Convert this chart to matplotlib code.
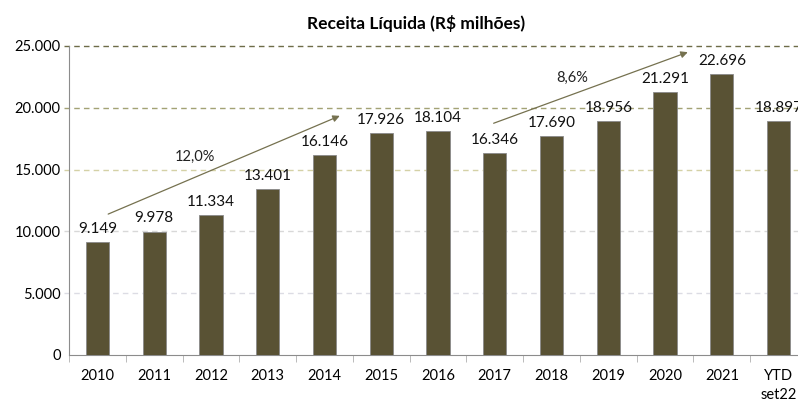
import matplotlib
matplotlib.use("Agg")
from matplotlib import pyplot as plt
import numpy as np

categories = ['2010', '2011', '2012', '2013', '2014', '2015', '2016',
              '2017', '2018', '2019', '2020', '2021', 'YTD\nset22']
receita = [9149, 9978, 11334, 13401, 16146, 17926, 18104,
           16346, 17690, 18956, 21291, 22696, 18897]
yticks = [0, 5000, 10000, 15000, 20000, 25000]
cagr_labels = ['12,0%', '8,6%']

bar_color = '#595234'
grid_colors = {5000: '#dcdce4', 10000: '#d8d8d8', 15000: '#d4d1a6',
               20000: '#a3a275', 25000: '#6e6c48'}


def fmt(v):
    return '{:,}'.format(v).replace(',', '.')


plt.rcParams['font.family'] = ['Lato', 'DejaVu Sans']

fig = plt.figure(figsize=(7.98, 3.99), dpi=100)
ax = fig.add_axes([69 / 798, 44 / 399, 738 / 798, 309 / 399])

x = np.arange(len(categories))
ax.bar(x, receita, width=0.41, color=bar_color, zorder=3,
       edgecolor='#8a8a8a', linewidth=0.6)

for xi, v in zip(x, receita):
    ax.text(xi, v + 500, fmt(v), ha='center', va='bottom', fontsize=11,
            color='#111111', zorder=4)

for t in yticks[1:]:
    ax.axhline(t, color=grid_colors[t], linestyle=(0, (4, 3)), linewidth=1.0,
               zorder=1, xmin=-0.007, clip_on=False)

ax.set_xlim(-0.5, len(categories) - 0.5)
ax.set_ylim(0, 25000)
ax.set_yticks(yticks)
ax.set_yticklabels([fmt(t) for t in yticks], fontsize=10.5)
ax.set_xticks(x)
ax.set_xticklabels(categories, fontsize=10.5, linespacing=1.45, va='top')
ax.set_xticks(np.arange(len(categories) + 1) - 0.5, minor=True)
ax.tick_params(axis='x', which='major', length=0, pad=10)
ax.tick_params(axis='x', which='minor', length=5, color='#b0b0b0')
ax.tick_params(axis='y', length=0, pad=6)

for side in ['top', 'right']:
    ax.spines[side].set_visible(False)
ax.spines['left'].set_color('#8c8c8c')
ax.spines['bottom'].set_color('#8c8c8c')

# growth arrows
arrow_style = dict(arrowstyle='-|>', color='#75714f', lw=0.9,
                   mutation_scale=10, shrinkA=0, shrinkB=0)
ax.annotate('', xy=(4.27, 19350), xytext=(0.19, 11400),
            arrowprops=arrow_style, zorder=5)
ax.annotate('', xy=(10.4, 24500), xytext=(6.98, 18750),
            arrowprops=arrow_style, zorder=5)
ax.text(1.72, 16000, cagr_labels[0], ha='center', va='center', fontsize=10.5,
        color='#222222')
ax.text(8.37, 22400, cagr_labels[1], ha='center', va='center', fontsize=10.5,
        color='#222222')

fig.text(416 / 798, 1 - 24 / 399, 'Receita Líquida (R$ milhões)',
         ha='center', va='center', fontsize=12.5, fontweight='bold')

fig.savefig('out.png', dpi=100)
